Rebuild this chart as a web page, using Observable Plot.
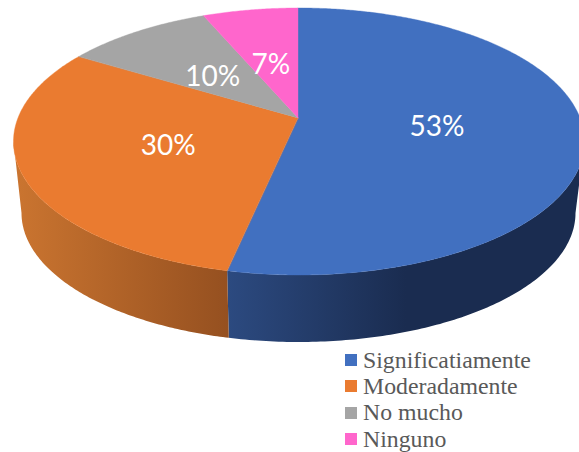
<!DOCTYPE html>
<html>
<head>
<meta charset="utf-8">
<script src="https://cdn.jsdelivr.net/npm/d3@7"></script>
<script src="https://cdn.jsdelivr.net/npm/@observablehq/plot@0.6"></script>
<style>
html,body{margin:0;padding:0;background:#fff;overflow:hidden}
#wrap{position:relative;width:579px;height:452px;overflow:hidden}
#wrap svg{display:block}
.legend{position:absolute;left:345px;top:347px;font-family:"Liberation Serif",serif;font-size:23.8px;color:#595959}
.row{display:flex;align-items:center;height:26.3px;white-space:nowrap}
.sw{width:12px;height:12px;margin-right:6px;flex:none}
</style>
</head>
<body>
<div id="wrap"></div>
<script>
const categories = ["Significatiamente", "Moderadamente", "No mucho", "Ninguno"];
const sliceValues = [53.7, 29.3, 10, 7];
const sliceLabels = ["53%", "30%", "10%", "7%"];
const sliceColors = ["#4170C0", "#EA7B30", "#A5A5A5", "#FF66CC"];
const wallStops = [
  [[0, "#2C4A80"], [0.5, "#1A2C50"], [1, "#1A2C50"]],
  [[0, "#CB7530"], [1, "#955020"]]
];

// tilted-disc geometry
const top_ = {cx: 299, cy: 141.5, rx: 285.5, ry: 133.5};
const bot_ = {cx: 298.5, cy: 213, rx: 277, ry: 129};
const apex = {x: 298, y: 118};
const tilt = 1.96;
const rad = d => d * Math.PI / 180;

function rim(e, t) { return [e.cx + e.rx * Math.sin(t), e.cy - e.ry * Math.cos(t)]; }
function hit(a) { // ray from the apex, in the tilted plane, to the top rim
  const dx = tilt * Math.sin(a), dy = -Math.cos(a);
  const ox = (apex.x - top_.cx) / top_.rx, oy = (apex.y - top_.cy) / top_.ry;
  const ux = dx / top_.rx, uy = dy / top_.ry;
  const A = ux * ux + uy * uy, B = 2 * (ox * ux + oy * uy), C = ox * ox + oy * oy - 1;
  const s = (-B + Math.sqrt(B * B - 4 * A * C)) / (2 * A);
  return [apex.x + s * dx, apex.y + s * dy];
}

let acc = 0;
const slices = categories.map((category, i) => {
  const a0 = acc / 100 * 2 * Math.PI; acc += sliceValues[i];
  const a1 = acc / 100 * 2 * Math.PI;
  return {category, value: sliceValues[i], label: sliceLabels[i], a0, a1};
});

const faceRows = slices.flatMap(s => {
  const n = Math.ceil((s.a1 - s.a0) / rad(0.5));
  return d3.range(n + 1).map(j => {
    const [x, y] = hit(s.a0 + (s.a1 - s.a0) * j / n);
    return {category: s.category, x, y};
  });
});

const pt = hit(slices[0].a1);
const seam = Math.atan2((pt[0] - top_.cx) / top_.rx, -(pt[1] - top_.cy) / top_.ry);
const seamT = seam < 0 ? seam + 2 * Math.PI : seam;
function wall(t0, t1) {
  const n = 120;
  return d3.range(n + 1).map(j => {
    const t = t0 + (t1 - t0) * j / n;
    const [x1, y1] = rim(top_, t), [x2, y2] = rim(bot_, t);
    return {x1, y1, x2, y2};
  });
}

const labelRows = slices.map(s => {
  const mid = (s.a0 + s.a1) / 2, r = 111 + 30 * Math.min(1, s.value / 25);
  return {label: s.label, x: apex.x + r * Math.sin(mid), y: apex.y + 1 - r * 0.47 * Math.cos(mid)};
});

function defs() {
  const d = d3.create("svg:defs");
  ["wallBlue", "wallOrange"].forEach((id, i) => {
    const g = d.append("linearGradient").attr("id", id).attr("x1", 0).attr("x2", 1).attr("y1", 0).attr("y2", 0);
    wallStops[i].forEach(([o, c]) => g.append("stop").attr("offset", o).attr("stop-color", c));
  });
  return d.node();
}

const chart = Plot.plot({
  width: 579, height: 452, margin: 0,
  style: {background: "transparent"},
  x: {domain: [0, 579], range: [0, 579], axis: null},
  y: {domain: [0, 452], range: [0, 452], axis: null},
  color: {domain: categories, range: sliceColors},
  marks: [
    defs,
    Plot.area(wall(rad(90), seamT), {x1: "x1", y1: "y1", x2: "x2", y2: "y2", fill: "url(#wallBlue)"}),
    Plot.area(wall(seamT, rad(270)), {x1: "x1", y1: "y1", x2: "x2", y2: "y2", fill: "url(#wallOrange)"}),
    Plot.area(faceRows, {
      x1: "x", y1: "y",
      x2: () => apex.x, y2: () => apex.y,
      fill: "category", z: "category",
      stroke: "category", strokeWidth: 0.4
    }),
    Plot.text(labelRows, {
      x: "x", y: "y", text: "label", dx: -1.5,
      fill: "white", fontSize: 28, fontFamily: "Lato, sans-serif"
    })
  ]
});

const wrap = document.getElementById("wrap");
wrap.appendChild(chart);
const legend = document.createElement("div");
legend.className = "legend";
categories.forEach((c, i) => {
  const row = document.createElement("div");
  row.className = "row";
  const sw = document.createElement("span");
  sw.className = "sw";
  sw.style.background = sliceColors[i];
  const t = document.createElement("span");
  t.textContent = c;
  row.append(sw, t);
  legend.appendChild(row);
});
wrap.appendChild(legend);
</script>
</body>
</html>
